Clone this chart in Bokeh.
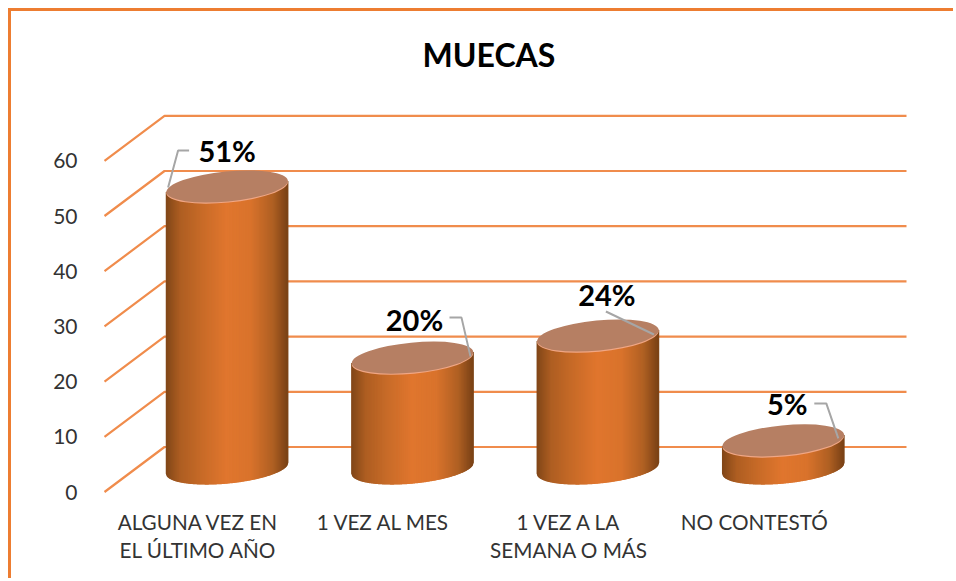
from math import cos, sin, sqrt, radians
from bokeh.plotting import figure
from bokeh.models import Range1d, FixedTicker
from bokeh.core.properties import value
from bokeh.embed import file_html
from bokeh.resources import INLINE

title = "MUECAS"
categories = ["ALGUNA VEZ EN\nEL ÚLTIMO AÑO", "1 VEZ AL MES", "1 VEZ A LA\nSEMANA O MÁS", "NO CONTESTÓ"]
values = [51, 20, 24, 5]
labels = ["51%", "20%", "24%", "5%"]
y_ticks = [0, 10, 20, 30, 40, 50, 60]

ORANGE = "#ED7D31"
GRID = "#F08C4C"
OFF = 11                          # page position of the canvas origin
WIDTH, HEIGHT = 945, 570
# layout in page pixels
FRAME_L, FRAME_T, FRAME_B = 90, 90, 500
PX_X0, PX_DX = 197.6, 185.4      # page x of first category, spacing
PX_Y0, PX_DY = 491.5, 5.52       # page y of value 0, pixels per unit
DEPTH_X, DEPTH_Y = 60.0, 45.0    # 3-D depth of the box in pixels
A, B, TILT = 61.0, 15.0, radians(5.5)

dx = lambda px: px / PX_DX
dy = lambda px: px / PX_DY
X = lambda px: 1 + (px - PX_X0) / PX_DX
Y = lambda px: (PX_Y0 - px) / PX_DY

p = figure(width=WIDTH, height=HEIGHT, output_backend="svg", toolbar_location=None,
           x_range=Range1d(X(FRAME_L), X(WIDTH + OFF)), y_range=Range1d(Y(FRAME_B), Y(FRAME_T)),
           min_border_left=FRAME_L - OFF, min_border_right=0, min_border_top=FRAME_T - OFF,
           min_border_bottom=HEIGHT + OFF - FRAME_B, outline_line_color=None,
           background_fill_color="white", border_fill_color="white")
p.styles = {"margin-left": "8px", "margin-top": "8px",
            "border-left": "3px solid " + ORANGE, "border-top": "3px solid " + ORANGE}
p.grid.visible = False

p.title.text = title
p.title.text_font = "Lato"
p.title.text_font_style = "bold"
p.title.text_font_size = "32px"
p.title.text_color = "black"
p.title.align = "left"
p.title.offset = 422 - FRAME_L
p.title.standoff = 34

for ax in (p.xaxis[0], p.yaxis[0]):
    ax.axis_line_color = None
    ax.major_tick_line_color = None
    ax.minor_tick_line_color = None
    ax.major_label_text_color = "#333333"
    ax.major_label_text_font = "Lato"
p.yaxis[0].ticker = FixedTicker(ticks=y_ticks)
p.yaxis[0].major_label_text_font_size = "21px"
p.yaxis[0].major_label_standoff = 7
p.xaxis[0].ticker = FixedTicker(ticks=list(range(1, len(categories) + 1)))
p.xaxis[0].major_label_overrides = {i + 1: c for i, c in enumerate(categories)}
p.xaxis[0].major_label_text_font_size = "20.7px"
p.xaxis[0].major_label_standoff = 3

# walls: diagonal from the axis to the back, then horizontal
x_front, x_back, x_end = X(104), X(104 + DEPTH_X), X(906)
grid_xs = [[x_front, x_back, x_end] for _ in y_ticks]
grid_ys = [[t, t + dy(DEPTH_Y), t + dy(DEPTH_Y)] for t in y_ticks]
p.multi_line(grid_xs, grid_ys, line_color=GRID, line_width=2.2)


def lower_edge(x):
    """Lower boundary (pixels, up is positive) of the tilted ellipse."""
    c, s = cos(TILT), sin(TILT)
    a2, b2 = A * A, B * B
    qa = c * c / a2 + s * s / b2
    qb = 2 * s * c * (1 / a2 - 1 / b2)
    qc = s * s / a2 + c * c / b2
    disc = max(qb * qb * x * x - 4 * qc * (qa * x * x - 1), 0)
    return (-qb * x - sqrt(disc)) / (2 * qc)


STOPS = [(0.0, (0x80, 0x46, 0x18)), (0.12, (0xAE, 0x5E, 0x22)), (0.3, (0xC8, 0x6B, 0x28)),
         (0.5, (0xE0, 0x76, 0x2E)), (0.7, (0xD9, 0x73, 0x2C)), (0.88, (0xB0, 0x60, 0x23)),
         (1.0, (0x7A, 0x42, 0x16))]


def shade(t):
    for (t0, c0), (t1, c1) in zip(STOPS, STOPS[1:]):
        if t <= t1:
            f = (t - t0) / (t1 - t0)
            return "#%02x%02x%02x" % tuple(round(u + (v - u) * f) for u, v in zip(c0, c1))
    return "#7a4216"


half_w = sqrt((A * cos(TILT)) ** 2 + (B * sin(TILT)) ** 2)
STRIPS = 122
cx = [i + 1 + dx(DEPTH_X / 2 - 1) for i in range(len(values))]
base = dy(DEPTH_Y / 2 + 1.5)

xs, ys, cols = [], [], []
for c, v in zip(cx, values):
    top = base + v
    for k in range(STRIPS):
        l = -half_w + 2 * half_w * k / STRIPS
        r = -half_w + 2 * half_w * (k + 1) / STRIPS
        xs.append([c + dx(l), c + dx(r), c + dx(r), c + dx(l)])
        ys.append([base + dy(lower_edge(l)), base + dy(lower_edge(r)),
                   top + dy(lower_edge(r)), top + dy(lower_edge(l))])
        cols.append(shade((k + 0.5) / STRIPS))
p.patches(xs, ys, fill_color=cols, line_color=cols, line_width=1.2)

tops = [base + v for v in values]
ell_w = dict(value=2 * A, units="screen")
ell_h = dict(value=2 * B, units="screen")
p.ellipse(cx, [t - dy(1.2) for t in tops], width=ell_w, height=ell_h, angle=TILT,
          fill_color="#F0A684", line_color=None)
p.ellipse(cx, tops, width=ell_w, height=ell_h, angle=TILT,
          fill_color="#B67F63", line_color=None)

# leader lines: pixel offsets from the centre of each bar's top
leaders = [[(-59, 1), (-49, -36), (-38, -36)],
           [(58, -1), (49, -40), (37, -40)],
           [(56, -1), (8, -24)],
           [(55, -2), (43, -37), (31, -37)]]
lx = [[c + dx(a) for a, _ in pts] for c, pts in zip(cx, leaders)]
ly = [[t - dy(b) for _, b in pts] for t, pts in zip(tops, leaders)]
p.multi_line(lx, ly, line_color="#A6A6A6", line_width=2)

label_off = [(0, -36), (2, -38), (9, -41), (4, -37)]
p.text([c + dx(o[0]) for c, o in zip(cx, label_off)],
       [t - dy(o[1]) for t, o in zip(tops, label_off)],
       text=labels, text_font=value("Lato"), text_font_style="bold", text_font_size="29px",
       text_color="black", text_align="center", text_baseline="middle")

open("out.html", "w").write(file_html(p, INLINE))
